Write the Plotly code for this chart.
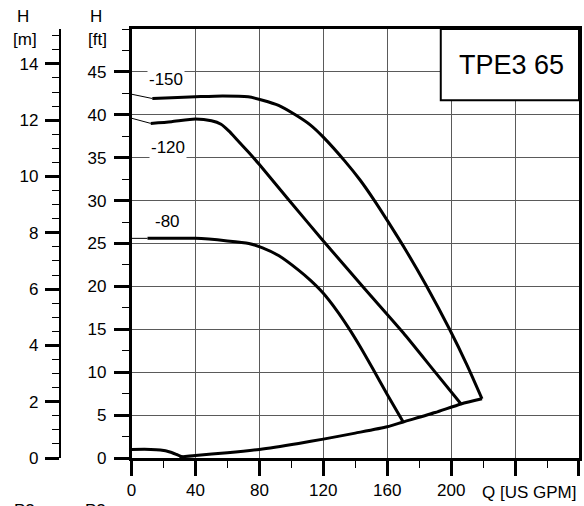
import plotly.graph_objects as go

# ---------------- data (Q in US GPM, H in ft) ----------------
q150_thin = [0, 13]
h150_thin = [42.4, 41.9]
q150 = [13, 25, 40, 57, 73, 82, 92, 102.5, 112, 120, 133.5, 143, 152, 161, 172, 184.4, 199, 210, 219.3]
h150 = [41.9, 42.0, 42.1, 42.2, 42.1, 41.7, 41.1, 40.0, 38.8, 37.4, 34.6, 32.4, 30.0, 27.4, 24.1, 20.1, 15.0, 10.8, 6.9]

q120_thin = [0, 12]
h120_thin = [39.6, 39.0]
q120 = [12, 25, 40, 50, 56, 61, 66, 73.4, 80, 98.3, 120, 146, 170, 189.6, 206.2]
h120 = [39.0, 39.2, 39.5, 39.3, 38.9, 38.1, 37.1, 35.6, 34.2, 30.1, 25.3, 19.7, 14.6, 10.1, 6.3]

q80_thin = [0, 10]
h80_thin = [25.6, 25.6]
q80 = [10, 25, 40, 60, 73.4, 82, 92, 104.5, 112, 120, 128, 135.7, 143, 151, 160, 170]
h80 = [25.6, 25.6, 25.6, 25.3, 25.0, 24.5, 23.6, 21.9, 20.7, 19.2, 17.3, 15.2, 13.0, 10.4, 7.4, 4.2]

q_min = [0, 12, 18, 24, 28, 32]
h_min = [1.0, 1.0, 0.92, 0.7, 0.42, 0.1]

q_sys = [30, 40, 60, 80, 104.5, 120, 140, 160, 170, 190, 206.2, 219.3]
h_sys = [0.1, 0.3, 0.6, 1.0, 1.7, 2.2, 2.9, 3.64, 4.2, 5.3, 6.3, 6.9]

curve_labels = ["-150", "-120", "-80"]
label_q = [21.6, 22.6, 22.6]
label_h = [44.1, 36.2, 27.6]

x_ticks = [0, 40, 80, 120, 160, 200, 240, 280]
x_ticktext = ["0", "40", "80", "120", "160", "200", "", ""]
ft_ticks = [0, 5, 10, 15, 20, 25, 30, 35, 40, 45]
m_ticks = [0, 2, 4, 6, 8, 10, 12, 14]

title_text = "TPE3 65"
FT_PER_M = 3.28084
H_MAX_FT = 50
Q_MAX = 280

FONT = "Arial, Liberation Sans, sans-serif"
fig = go.Figure()

def add_line(x, y, w):
    fig.add_trace(go.Scatter(x=x, y=y, mode="lines",
                             line=dict(color="black", width=w, shape="spline", smoothing=0.6),
                             showlegend=False, hoverinfo="skip"))

add_line(q150_thin, h150_thin, 1)
add_line(q150, h150, 3)
add_line(q120_thin, h120_thin, 1)
add_line(q120, h120, 3)
add_line(q80_thin, h80_thin, 1)
add_line(q80, h80, 3)
add_line(q_min, h_min, 3)
add_line(q_sys, h_sys, 3)

# invisible trace so the metre axis is rendered
fig.add_trace(go.Scatter(x=[0], y=[0], yaxis="y2", mode="markers",
                         marker=dict(opacity=0), showlegend=False, hoverinfo="skip"))

L, R, T, B = 50, 2, 29, 48
W, H = 584, 506
pw = W - L - R
x0_frac = (132 - L) / pw
m_pos = (60 - L) / pw

grid_c = "#5a5a5a"
fig.update_layout(
    width=W, height=H,
    margin=dict(l=L, r=R, t=T, b=B),
    paper_bgcolor="white", plot_bgcolor="white",
    font=dict(family=FONT, size=17, color="black"),
    xaxis=dict(domain=[x0_frac, 1], range=[0, Q_MAX], tickvals=x_ticks, ticktext=x_ticktext,
               showgrid=True, gridcolor=grid_c, gridwidth=1, zeroline=False,
               showline=True, linecolor="black", linewidth=2.5, mirror=True,
               ticks="outside", ticklen=15, tickwidth=2.5, tickcolor="black",
               minor=dict(dtick=20, tick0=0, ticks="outside", ticklen=7, tickwidth=1.2,
                          tickcolor="black", showgrid=False),
               tickfont=dict(size=17)),
    yaxis=dict(range=[0, H_MAX_FT], tickvals=ft_ticks,
               showgrid=True, gridcolor=grid_c, gridwidth=1, zeroline=False,
               showline=True, linecolor="black", linewidth=2.5, mirror=True,
               ticks="outside", ticklen=15, tickwidth=2.5, tickcolor="black",
               minor=dict(dtick=2.5, tick0=0, ticks="outside", ticklen=7, tickwidth=1.2,
                          tickcolor="black", showgrid=False),
               ticklabelstandoff=4,
               tickfont=dict(size=17)),
    yaxis2=dict(range=[0, H_MAX_FT / FT_PER_M], overlaying="y", anchor="free", position=m_pos,
                side="left", tickvals=m_ticks, showgrid=False, zeroline=False,
                showline=True, linecolor="black", linewidth=2,
                ticks="outside", ticklen=14, tickwidth=2.5, tickcolor="black",
                minor=dict(dtick=0.5, tick0=0, ticks="outside", ticklen=7, tickwidth=1.2,
                           tickcolor="black"),
                ticklabelstandoff=3,
                tickfont=dict(size=17)),
)

# model box
fig.add_shape(type="rect", xref="x", yref="y", x0=193.5, x1=Q_MAX, y0=41.7, y1=H_MAX_FT,
              fillcolor="white", line=dict(color="black", width=2), layer="above")
fig.add_annotation(x=(193.5 + Q_MAX) / 2 + 1, y=(41.7 + H_MAX_FT) / 2, xref="x", yref="y",
                   text=title_text, showarrow=False, font=dict(size=27))

for t, xq, yh in zip(curve_labels, label_q, label_h):
    fig.add_annotation(x=xq, y=yh, xref="x", yref="y", text=t, showarrow=False,
                       bgcolor="white", font=dict(size=17), borderpad=1)

def px_x(p):
    return (p - L) / pw

def px_y(p):
    return (H - B - p) / (H - T - B)

def paper_text(txt, xp, yp, xanchor="center"):
    fig.add_annotation(x=px_x(xp), y=px_y(yp), xref="paper", yref="paper", text=txt,
                       showarrow=False, xanchor=xanchor, yanchor="middle")

# axis titles
paper_text("H", 22.5, 16)
paper_text("[m]", 25, 39.5)
paper_text("H", 96, 16)
paper_text("[ft]", 98, 39.5)
paper_text("Q [US GPM]", 581, 492, xanchor="right")
# partially visible headings of the chart below
paper_text("P2", 24, 511)
paper_text("P2", 96, 511)

fig.write_html("out.html", config={"displayModeBar": False},
               post_script="document.body.style.margin='0';document.body.style.overflow='hidden';")
